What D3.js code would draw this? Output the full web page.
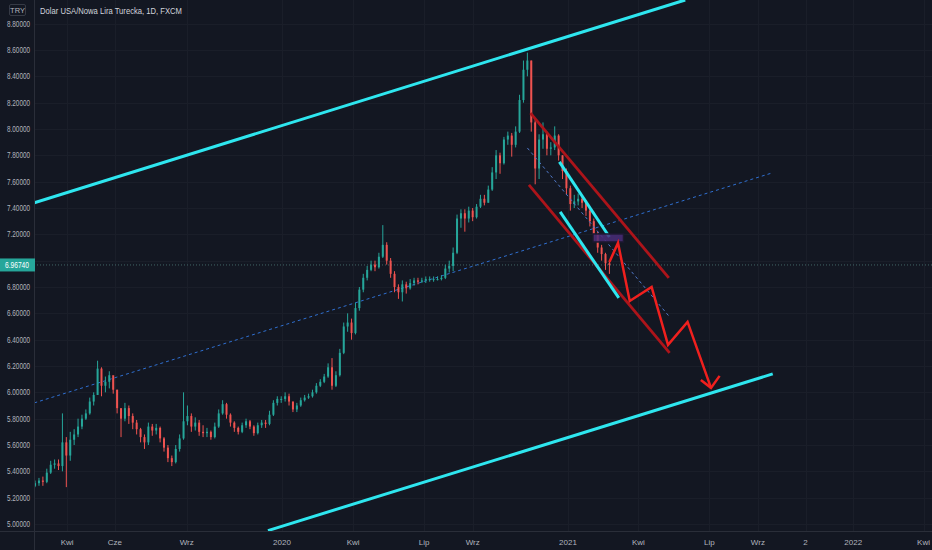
<!DOCTYPE html>
<html lang="pl">
  <head>
    <meta charset="utf-8">
    <title>USD/TRY 1D</title>
    <script src="https://d3js.org/d3.v7.min.js"></script>
    <style>
      body { margin: 0; background: #131722; }
      text { font-family: "Liberation Sans", Roboto, sans-serif; }
    </style>
  </head>

  <body>
    <div id="chart"></div>
    <script>
      // ---- data ----
      var FIRST_BAR = "2019-02-19";   // one bar every 5 days
      var BAR_STEP = 5;

      var closes = [5.31, 5.33, 5.32, 5.39, 5.45, 5.46, 5.44, 5.62, 5.52, 5.64,
        5.68, 5.74, 5.80, 5.84, 5.93, 5.98, 6.18, 6.05, 6.08, 6.13,
        6.02, 5.88, 5.80, 5.88, 5.82, 5.77, 5.72, 5.66, 5.62, 5.74,
        5.71, 5.73, 5.65, 5.58, 5.50, 5.47, 5.57, 5.65, 5.78, 5.82,
        5.74, 5.77, 5.70, 5.69, 5.70, 5.66, 5.74, 5.84, 5.91, 5.83,
        5.77, 5.73, 5.70, 5.75, 5.78, 5.74, 5.69, 5.75, 5.77, 5.76,
        5.83, 5.92, 5.95, 5.95, 5.97, 5.93, 5.87, 5.90, 5.94, 5.96,
        5.97, 6.00, 6.05, 6.08, 6.12, 6.19, 6.05, 6.13, 6.30, 6.50,
        6.53, 6.45, 6.64, 6.78, 6.87, 6.93, 6.97, 6.95, 7.03, 7.12,
        7.00, 6.90, 6.80, 6.76, 6.82, 6.79, 6.83, 6.85, 6.84, 6.85,
        6.86, 6.86, 6.86, 6.86, 6.87, 6.94, 6.96, 7.06, 7.32, 7.36,
        7.32, 7.38, 7.33, 7.41, 7.47, 7.44, 7.54, 7.67, 7.80, 7.74,
        7.92, 7.95, 7.88, 7.98, 8.22, 8.45, 8.52, 8.05, 7.70, 7.92,
        7.96, 7.85, 7.86, 7.95, 7.80, 7.68, 7.55, 7.43, 7.45, 7.47,
        7.44, 7.38, 7.30, 7.20, 7.10, 7.05, 6.98, 6.9674];

      var highs = [5.33, 5.35, 5.36, 5.42, 5.48, 5.49, 5.49, 5.84, 5.66, 5.70,
        5.72, 5.80, 5.83, 5.87, 5.96, 6.00, 6.24, 6.19, 6.12, 6.16,
        6.10, 6.02, 5.86, 5.92, 5.90, 5.84, 5.79, 5.73, 5.68, 5.77,
        5.76, 5.76, 5.74, 5.66, 5.60, 5.52, 5.60, 5.68, 6.00, 5.90,
        5.84, 5.81, 5.79, 5.75, 5.73, 5.71, 5.77, 5.87, 5.94, 5.92,
        5.84, 5.78, 5.74, 5.77, 5.80, 5.79, 5.75, 5.77, 5.79, 5.79,
        5.86, 5.94, 5.97, 5.97, 6.00, 5.99, 5.93, 5.92, 5.96, 5.98,
        5.99, 6.02, 6.07, 6.10, 6.14, 6.22, 6.26, 6.16, 6.33, 6.53,
        6.60, 6.56, 6.68, 6.80, 6.90, 6.96, 7.00, 7.00, 7.06, 7.27,
        7.14, 7.02, 6.92, 6.82, 6.85, 6.84, 6.86, 6.87, 6.87, 6.87,
        6.88, 6.88, 6.88, 6.88, 6.89, 6.97, 7.00, 7.10, 7.35, 7.39,
        7.39, 7.41, 7.40, 7.43, 7.50, 7.50, 7.57, 7.71, 7.84, 7.82,
        7.94, 7.98, 7.97, 8.02, 8.26, 8.52, 8.58, 8.52, 8.08, 7.96,
        8.05, 7.98, 7.90, 8.02, 7.96, 7.80, 7.70, 7.57, 7.50, 7.51,
        7.49, 7.46, 7.40, 7.32, 7.22, 7.12, 7.06, 7.00];

      var lows = [5.28, 5.29, 5.29, 5.31, 5.38, 5.42, 5.41, 5.40, 5.28, 5.48,
        5.60, 5.66, 5.72, 5.79, 5.83, 5.90, 5.98, 5.97, 6.00, 6.03,
        5.99, 5.84, 5.66, 5.78, 5.76, 5.72, 5.68, 5.62, 5.57, 5.60,
        5.67, 5.68, 5.62, 5.55, 5.47, 5.44, 5.46, 5.55, 5.64, 5.75,
        5.70, 5.71, 5.67, 5.66, 5.66, 5.64, 5.65, 5.73, 5.83, 5.80,
        5.74, 5.70, 5.68, 5.69, 5.73, 5.72, 5.67, 5.68, 5.73, 5.73,
        5.75, 5.82, 5.90, 5.92, 5.93, 5.90, 5.85, 5.85, 5.89, 5.93,
        5.95, 5.96, 5.99, 6.04, 6.07, 6.11, 6.02, 6.04, 6.12, 6.29,
        6.46, 6.40, 6.44, 6.62, 6.76, 6.85, 6.92, 6.92, 6.94, 7.02,
        6.97, 6.87, 6.76, 6.71, 6.69, 6.75, 6.78, 6.81, 6.82, 6.83,
        6.83, 6.84, 6.84, 6.85, 6.85, 6.86, 6.91, 6.92, 7.05, 7.25,
        7.22, 7.29, 7.30, 7.32, 7.40, 7.42, 7.44, 7.53, 7.62, 7.66,
        7.73, 7.88, 7.79, 7.86, 7.97, 8.20, 8.40, 7.98, 7.58, 7.62,
        7.85, 7.80, 7.80, 7.84, 7.76, 7.62, 7.50, 7.38, 7.40, 7.42,
        7.40, 7.34, 7.26, 7.15, 7.06, 7.00, 6.93, 6.90];
      var firstOpen = 5.29;
      var lastPrice = 6.9674;

      // 7.00000 sits under the last-price tag, so it is left out
      var priceTicks = [5.0, 5.2, 5.4, 5.6, 5.8, 6.0, 6.2, 6.4, 6.6, 6.8,
        7.2, 7.4, 7.6, 7.8, 8.0, 8.2, 8.4, 8.6, 8.8];
      var timeTickDates = ["2019-04-01", "2019-06-01", "2019-09-01", "2020-01-01",
        "2020-04-01", "2020-07-01", "2020-09-01", "2021-01-01", "2021-04-01",
        "2021-07-01", "2021-09-01", "2021-11-01", "2022-01-01", "2022-04-01"];
      var timeTickLabels = ["Kwi", "Cze", "Wrz", "2020", "Kwi", "Lip", "Wrz", "2021",
        "Kwi", "Lip", "Wrz", "2", "2022", "Kwi"];

      // drawings: [date, price] pairs
      var channelTop = [["2019-02-18", 7.44], ["2021-05-31", 8.98]];
      var channelBottom = [["2019-12-14", 4.95], ["2021-09-20", 6.14]];
      var midTrend = [["2019-02-18", 5.92], ["2021-09-19", 7.666]];
      var flagTop = [["2020-12-21", 7.75], ["2021-02-23", 7.18]];
      var flagBottom = [["2020-12-22", 7.37], ["2021-03-07", 6.717]];
      var redTop = [["2020-11-14", 8.12], ["2021-05-10", 6.87]];
      var redBottom = [["2020-11-12", 7.575], ["2021-05-11", 6.30]];
      var redMid = [["2020-11-10", 7.856], ["2021-05-11", 6.573]];
      var zigzag = [["2021-02-23", 6.99], ["2021-03-06", 7.135], ["2021-03-21", 6.694],
        ["2021-04-18", 6.80], ["2021-05-09", 6.36], ["2021-06-03", 6.535], ["2021-07-03", 6.034]];
      var arrowHead = [["2021-06-20", 6.094], ["2021-07-03", 6.034], ["2021-07-14", 6.125]];
      var boxZone = [["2021-02-02", 7.203], ["2021-03-13", 7.142]];

      // ---- layout ----
      var w = 932, h = 550;
      var paneLeft = 34, paneBottom = 531;
      var UP = "#26a69a", DOWN = "#ef5350";

      var parse = d3.timeParse("%Y-%m-%d");

      var xScale = d3.scaleTime()
        .domain([new Date(2020, 0, 1), new Date(2021, 0, 1)])
        .range([282, 568]);

      var yScale = d3.scaleLinear()
        .domain([5.0, 8.6])
        .range([524, 50]);

      var svg = d3.select("#chart").append("svg")
        .attr("width", w)
        .attr("height", h)
        .style("display", "block");

      svg.append("rect").attr("width", w).attr("height", h).attr("fill", "#131722");

      svg.append("clipPath").attr("id", "pane")
        .append("rect")
          .attr("x", paneLeft).attr("y", 0)
          .attr("width", w - paneLeft).attr("height", paneBottom);

      // grid
      var grid = svg.append("g").attr("stroke", "#1a1e29").attr("stroke-width", 1);
      priceTicks.concat([7.0]).forEach(function(p) {
        grid.append("line")
          .attr("x1", paneLeft).attr("x2", w)
          .attr("y1", Math.round(yScale(p)) + 0.5).attr("y2", Math.round(yScale(p)) + 0.5);
      });
      timeTickDates.forEach(function(d) {
        var x = Math.round(xScale(parse(d))) + 0.5;
        grid.append("line").attr("x1", x).attr("x2", x).attr("y1", 0).attr("y2", paneBottom);
      });

      var pane = svg.append("g").attr("clip-path", "url(#pane)");

      function pts(arr) {
        return arr.map(function(p) { return [xScale(parse(p[0])), yScale(p[1])]; });
      }
      var line = d3.line();

      function drawLine(arr, color, width, dash) {
        pane.append("path")
          .attr("d", line(pts(arr)))
          .attr("fill", "none")
          .attr("stroke", color)
          .attr("stroke-width", width)
          .attr("stroke-linejoin", "miter")
          .attr("stroke-dasharray", dash || null);
      }

      // long dashed trend line (behind candles)
      drawLine(midTrend, "#2f6fd0", 1, "3,3");

      // last price line
      pane.append("line")
        .attr("x1", paneLeft).attr("x2", w)
        .attr("y1", yScale(lastPrice)).attr("y2", yScale(lastPrice))
        .attr("stroke", "#4d7a78").attr("stroke-opacity", 0.8)
        .attr("stroke-dasharray", "1,2");

      // candles
      var start = parse(FIRST_BAR);
      var bars = closes.map(function(c, i) {
        return {
          date: d3.timeDay.offset(start, i * BAR_STEP),
          open: i === 0 ? firstOpen : closes[i - 1],
          high: highs[i],
          low: lows[i],
          close: c
        };
      });

      var candles = pane.append("g").selectAll("g").data(bars).join("g")
        .attr("transform", function(d) { return "translate(" + xScale(d.date) + ",0)"; });

      candles.append("line")
        .attr("y1", function(d) { return yScale(d.high); })
        .attr("y2", function(d) { return yScale(d.low); })
        .attr("stroke", function(d) { return d.close >= d.open ? UP : DOWN; })
        .attr("stroke-width", 1);

      candles.append("rect")
        .attr("x", -1)
        .attr("width", 2)
        .attr("y", function(d) { return yScale(Math.max(d.open, d.close)); })
        .attr("height", function(d) { return Math.max(1, Math.abs(yScale(d.open) - yScale(d.close))); })
        .attr("fill", function(d) { return d.close >= d.open ? UP : DOWN; });

      // drawings
      drawLine(channelTop, "#2ee6ef", 3);
      drawLine(channelBottom, "#2ee6ef", 3);
      drawLine(redTop, "#ad141a", 2.8);
      drawLine(redBottom, "#ad141a", 2.8);
      drawLine(redMid, "#4f78c8", 1, "3,3");
      drawLine(flagTop, "#2ee6ef", 3);
      drawLine(flagBottom, "#2ee6ef", 3);

      var bz = pts(boxZone);
      pane.append("rect")
        .attr("x", bz[0][0]).attr("y", bz[0][1])
        .attr("width", bz[1][0] - bz[0][0]).attr("height", bz[1][1] - bz[0][1])
        .attr("fill", "#4a2d78").attr("fill-opacity", 0.85)
        .attr("stroke", "#1d1830").attr("stroke-width", 1.5);

      drawLine(zigzag, "#f0201e", 2.5);
      drawLine(arrowHead, "#f0201e", 2.5);

      // axes frame
      svg.append("line")
        .attr("x1", paneLeft + 0.5).attr("x2", paneLeft + 0.5)
        .attr("y1", 0).attr("y2", h)
        .attr("stroke", "#2a2e39");
      svg.append("line")
        .attr("x1", 0).attr("x2", w)
        .attr("y1", paneBottom + 0.5).attr("y2", paneBottom + 0.5)
        .attr("stroke", "#2a2e39");

      // price labels (left scale)
      var yAxis = svg.append("g");
      priceTicks.forEach(function(p) {
        yAxis.append("text")
          .attr("x", 7)
          .attr("y", yScale(p) + 3)
          .attr("font-size", "8.5px")
          .attr("fill", "#b2b5be")
          .attr("textLength", 23)
          .attr("lengthAdjust", "spacingAndGlyphs")
          .text(d3.format(".5f")(p));
      });

      // time labels
      var xAxis = svg.append("g");
      timeTickDates.forEach(function(d, i) {
        xAxis.append("text")
          .attr("x", xScale(parse(d)))
          .attr("y", 545)
          .attr("text-anchor", "middle")
          .attr("font-size", "8px")
          .attr("fill", "#b2b5be")
          .text(timeTickLabels[i]);
      });

      // last price tag
      svg.append("rect")
        .attr("x", 0).attr("y", yScale(lastPrice) - 6.5)
        .attr("width", 35).attr("height", 13)
        .attr("fill", UP);
      svg.append("text")
        .attr("x", 5).attr("y", yScale(lastPrice) + 3.2)
        .attr("font-size", "8.5px")
        .attr("fill", "#ffffff")
        .attr("textLength", 24)
        .attr("lengthAdjust", "spacingAndGlyphs")
        .text(d3.format(".5f")(lastPrice));

      // header
      svg.append("rect")
        .attr("x", 9.5).attr("y", 4.5).attr("width", 16).attr("height", 11)
        .attr("rx", 1.5)
        .attr("fill", "#131722").attr("stroke", "#363a45");
      svg.append("text")
        .attr("x", 17.5).attr("y", 13)
        .attr("text-anchor", "middle")
        .attr("font-size", "7.5px")
        .attr("fill", "#b2b5be")
        .text("TRY");
      svg.append("text")
        .attr("x", 40).attr("y", 14)
        .attr("font-size", "9px")
        .attr("fill", "#d1d4dc")
        .attr("textLength", 142)
        .attr("lengthAdjust", "spacingAndGlyphs")
        .text("Dolar USA/Nowa Lira Turecka, 1D, FXCM");
    </script>
  </body>
</html>
